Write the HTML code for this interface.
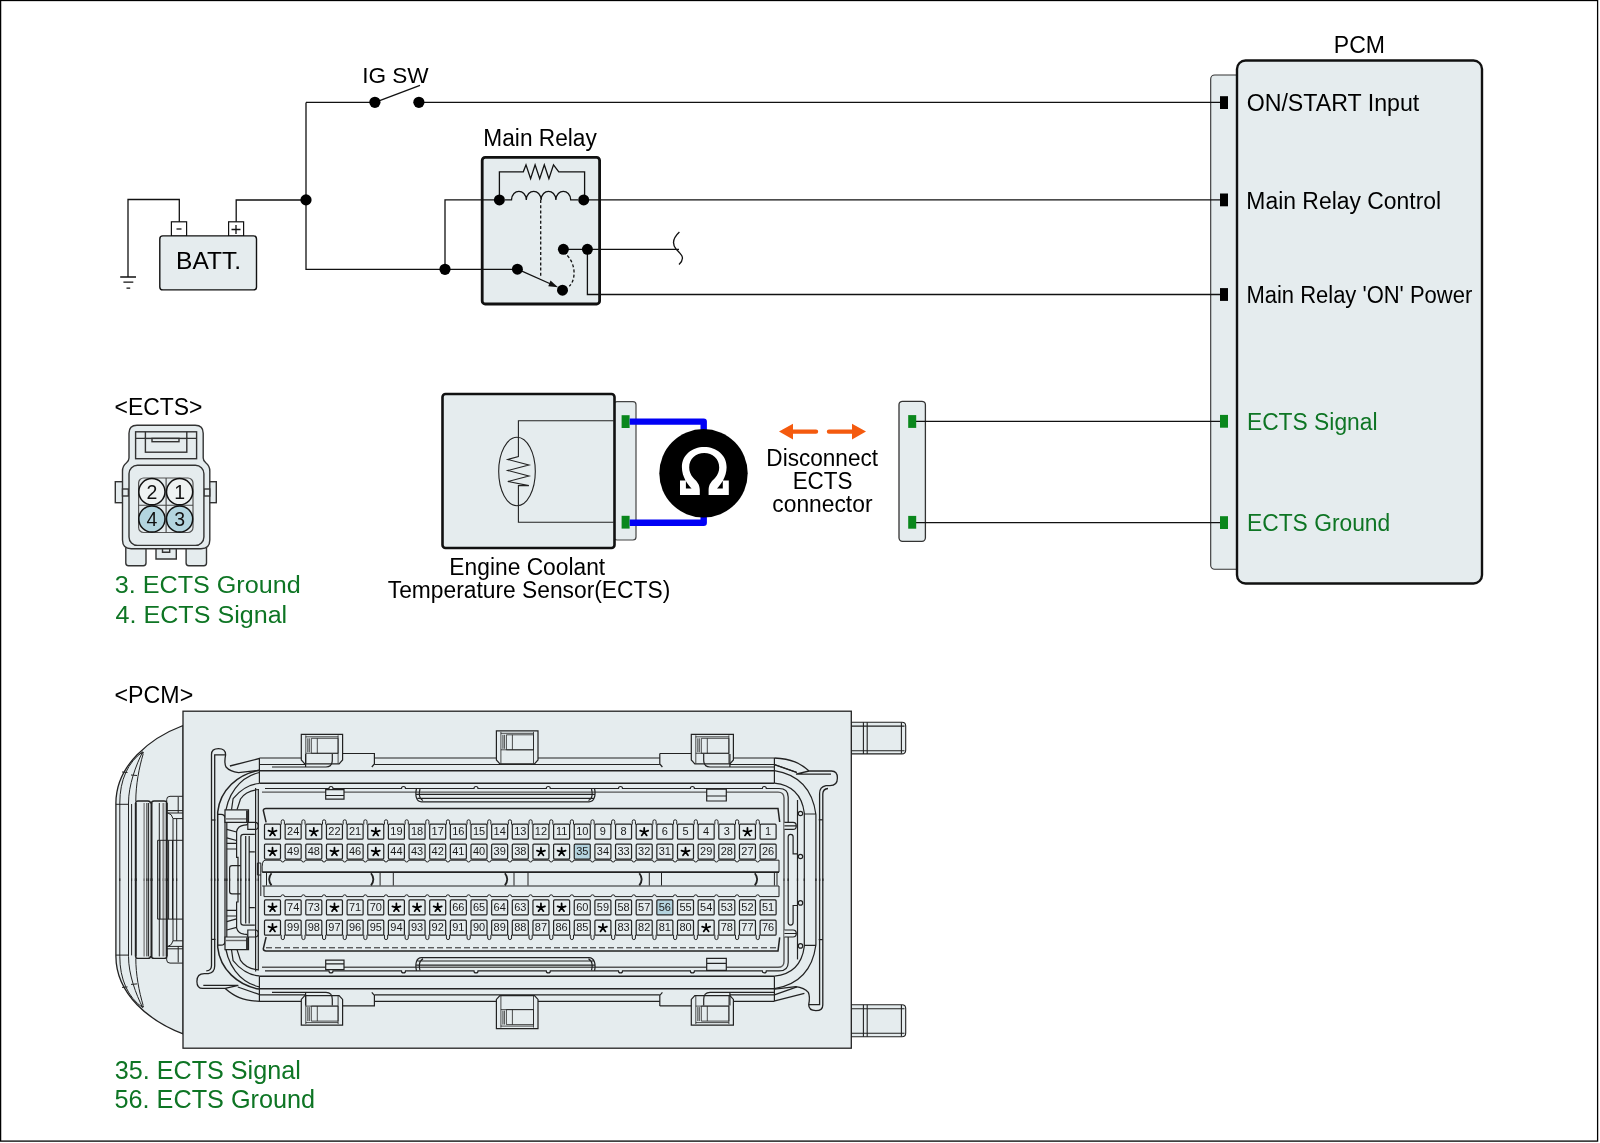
<!DOCTYPE html><html><head><meta charset="utf-8"><style>html,body{margin:0;padding:0;background:#fff;width:1600px;height:1143px;overflow:hidden}svg{display:block;will-change:transform}text{font-family:"Liberation Sans",sans-serif}</style></head><body>
<svg width="1600" height="1143" viewBox="0 0 1600 1143">
<rect x="0.6" y="0.5" width="1597" height="1140.6" fill="#fff" stroke="#000" stroke-width="1.3"/>
<rect x="899" y="401.3" width="26.4" height="140" rx="3.5" fill="#e5ecee" stroke="#333" stroke-width="1.3"/>
<rect x="1210.7" y="75" width="40" height="494.3" rx="4" fill="#e5ecee" stroke="#333" stroke-width="1.1"/>
<rect x="1237" y="60.5" width="245" height="523" rx="8.5" fill="#e5ecee" stroke="#111" stroke-width="2.4"/>
<rect x="482.2" y="157.4" width="117.4" height="146.6" rx="3" fill="#e5ecee" stroke="#111" stroke-width="2.8"/>
<g fill="none" stroke="#111" stroke-width="1.3">
<path d="M128,277 V199.5 H179.3 V222"/>
<path d="M236.2,222 V200 H306"/>
<path d="M306,102.4 H375 M419,102.4 H1220"/>
<path d="M306,102.4 V269.3 H517.4"/>
<path d="M445,269.3 V199.9 H499.4"/>
<path d="M583.7,199.9 H1220"/>
<path d="M563.4,249.3 H679"/>
<path d="M587.4,249.3 V294.5 H1220"/>
<path d="M375,102.4 L420,85.3"/>
<path d="M120.2,277 H136 M123.4,282.2 H133.3 M126.5,288.2 H130.2"/>
<path d="M679.4,232 C673,238 672,244 676,249 C681,254 686,258 679,264.5"/>
</g>
<rect x="171.4" y="221.8" width="15.2" height="14.4" fill="#fff" stroke="#111" stroke-width="1.2"/>
<rect x="228.6" y="221.8" width="15" height="14.4" fill="#fff" stroke="#111" stroke-width="1.2"/>
<path d="M176.5,229 H181.5" stroke="#111" stroke-width="1.3"/>
<path d="M231.5,229.5 H240.5 M236,225 V234" stroke="#111" stroke-width="1.3"/>
<rect x="159.8" y="235.9" width="96.7" height="54" rx="3" fill="#e5ecee" stroke="#111" stroke-width="1.4"/>
<circle cx="374.9" cy="102.3" r="5.6" fill="#000"/>
<circle cx="418.9" cy="102.3" r="5.6" fill="#000"/>
<circle cx="306" cy="199.9" r="5.6" fill="#000"/>
<circle cx="445" cy="269.3" r="5.6" fill="#000"/>
<g fill="none" stroke="#111" stroke-width="1.3">
<path d="M499.4,199.9 V171.8 H523.3 L526,164.8 L530.6,178.6 L535.1,164.8 L539.7,178.6 L544.3,164.8 L548.9,178.6 L553.5,164.8 L558.8,171.8 H584.6 V199.9"/>
<path d="M505,199.9 H511.5 C512.0,188.5 525.8,188.5 526.3,199.9 C526.8,188.5 540.5999999999999,188.5 541.0999999999999,199.9 C541.5999999999999,188.5 555.3999999999999,188.5 555.8999999999999,199.9 C556.3999999999999,188.5 570.1999999999998,188.5 570.6999999999998,199.9 H578"/>
<path d="M540.7,200 V277.8" stroke-dasharray="3,2.2"/>
<path d="M563.4,252 C577,262 576,280 569.3,286.3" stroke-dasharray="3,2.2"/>
<path d="M517.4,269.2 L553,285"/>
</g>
<path d="M558,287.3 L550.5,280.6 L548.3,286.2 Z" fill="#111"/>
<circle cx="499.4" cy="199.9" r="5.5" fill="#000"/>
<circle cx="583.7" cy="199.9" r="5.5" fill="#000"/>
<circle cx="563.4" cy="249.3" r="5.5" fill="#000"/>
<circle cx="587.4" cy="249.3" r="5.5" fill="#000"/>
<circle cx="517.4" cy="269.2" r="5.5" fill="#000"/>
<circle cx="562.5" cy="290.2" r="5.5" fill="#000"/>
<rect x="1220" y="96.19999999999999" width="8" height="12.8" fill="#000"/>
<rect x="1220" y="193.5" width="8" height="12.8" fill="#000"/>
<rect x="1220" y="288.1" width="8" height="12.8" fill="#000"/>
<rect x="1220" y="414.90000000000003" width="8" height="12.8" fill="#0a871c"/>
<rect x="1220" y="516.2" width="8" height="12.8" fill="#0a871c"/>
<path d="M916,421.3 H1220 M916,522.6 H1220" stroke="#111" stroke-width="1.2" fill="none"/>
<rect x="908.2" y="415.1" width="8" height="12.8" fill="#0a871c"/>
<rect x="908.2" y="515.9" width="8" height="12.8" fill="#0a871c"/>
<rect x="614" y="401.7" width="22" height="138.3" rx="3" fill="#e5ecee" stroke="#444" stroke-width="1.2"/>
<rect x="442.5" y="394" width="172" height="154" rx="3" fill="#e5ecee" stroke="#111" stroke-width="2.6"/>
<g fill="none" stroke="#222" stroke-width="1.1">
<path d="M614,420.8 H518.4 V456.5 L507.8,459.5 L528.9,465 L507.8,470.5 L528.9,476 L507.8,481.5 L528.9,485.6 L518.4,485.6 V522.3 H614"/>
<ellipse cx="517" cy="471.5" rx="18.3" ry="34.2"/>
</g>
<rect x="621.6" y="415.20000000000005" width="8" height="12.8" fill="#0a871c"/>
<rect x="621.6" y="515.8000000000001" width="8" height="12.8" fill="#0a871c"/>
<path d="M629.7,421.6 H703.7 V430 M629.7,522.8 H703.7 V516" fill="none" stroke="#0000f5" stroke-width="6.4" stroke-linejoin="round"/>
<circle cx="703.5" cy="473.3" r="44.2" fill="#000"/>
<path fill="#fff" d="M680,494.9 V480.4 H685.9 V488.6 H691.6 C688,485 681.9,477 681.9,467.3 C681.9,455 692,447.1 704.2,447.1 C716.4,447.1 726.6,455 726.6,467.3 C726.6,477 720.5,485 717,488.6 H722.8 V480.4 H728.8 V494.9 H708.6 V490 C708.6,484 712,481 715,478 C718,474.5 719.2,471 719.2,467.5 C719.2,459 712.5,453.1 704.2,453.1 C695.9,453.1 689.2,459 689.2,467.5 C689.2,471 690.4,474.5 693.4,478 C696.4,481 699.8,484 699.8,490 V494.9 Z"/>
<g fill="#f45a0e" stroke="none">
<path d="M779,431.6 L793,423.7 L793,429.4 L816,429.4 A2.2,2.2 0 0 1 816,433.8 L793,433.8 L793,439.5 Z"/>
<path d="M866,431.6 L852,423.7 L852,429.4 L829,429.4 A2.2,2.2 0 0 0 829,433.8 L852,433.8 L852,439.5 Z"/>
</g>
<g fill="#e5ecee" stroke="#333" stroke-width="1.4">
<path d="M125.8,545 V563 Q125.8,565.7 128.5,565.7 H143.3 Q146,565.7 146,563 V545 Z"/>
<path d="M186.1,545 V563 Q186.1,565.7 188.8,565.7 H203.8 Q206.5,565.7 206.5,563 V545 Z"/>
<path d="M156,545 V559 H176.3 V545 Z"/>
<rect x="115.3" y="481.7" width="10" height="21" />
<rect x="207" y="481.7" width="9.3" height="21" />
<path d="M137,425.3 H195.2 Q203.2,425.3 203.2,433.3 V458 Q203.2,461 206,463 Q209.8,466 209.8,471 V540 Q209.8,548.7 201,548.7 H131.3 Q122.5,548.7 122.5,540 V471 Q122.5,466 126.3,463 Q129,461 129,458 V433.3 Q129,425.3 137,425.3 Z"/>
<rect x="122.5" y="489" width="5.9" height="7"/>
<rect x="204" y="489" width="5.8" height="7"/>
<rect x="129" y="465.3" width="74.9" height="80.1" rx="8.5"/>
<rect x="135.6" y="431.8" width="61" height="26.9"/>
<rect x="145.4" y="438.4" width="41.4" height="13.8"/>
<rect x="152" y="438.4" width="27" height="3.3"/>
<path d="M135.6,438.4 H145.4 M186.8,438.4 H196.6 M145.4,431.8 V438.4 M186.8,431.8 V438.4" fill="none"/>
<path d="M162.5,548.7 V552.2 H169.7 V548.7" fill="none"/>
<rect x="138.6" y="478" width="54.4" height="54.5" rx="5" stroke="#555" stroke-width="1.2"/>
<path d="M166.1,478 V532.5 M138.6,505.2 H193" fill="none" stroke="#444" stroke-width="1.1"/>
<circle cx="151.9" cy="491.7" r="13.1" fill="#eef2f2" stroke="#111" stroke-width="1.5"/>
<circle cx="179.6" cy="491.7" r="13.1" fill="#eef2f2" stroke="#111" stroke-width="1.5"/>
<circle cx="151.9" cy="519" r="13.1" fill="#b3d5df" stroke="#111" stroke-width="1.5"/>
<circle cx="179.6" cy="519" r="13.1" fill="#b3d5df" stroke="#111" stroke-width="1.5"/>
</g>
<text x="151.9" y="498.5" font-size="19.5" fill="#111" text-anchor="middle" >2</text>
<text x="179.6" y="498.5" font-size="19.5" fill="#111" text-anchor="middle" >1</text>
<text x="151.9" y="525.5" font-size="19.5" fill="#111" text-anchor="middle" >4</text>
<text x="179.6" y="525.5" font-size="19.5" fill="#111" text-anchor="middle" >3</text>
<g fill="#e5ecee" stroke="#222" stroke-width="1.1">
<path d="M851,722.2 H902 Q905.7,722.2 905.7,726 V750 Q905.7,753.9 902,753.9 H851 Z"/>
<path d="M851,1004.7 H902 Q905.7,1004.7 905.7,1008.5 V1033 Q905.7,1036.8 902,1036.8 H851 Z"/>
<path d="M863.4,722.2 V753.9 M867.2,722.2 V753.9 M863.4,1004.7 V1036.8 M867.2,1004.7 V1036.8 M901.4,722.5 V753.5 M901.4,1005 V1036.5 M851,726.1 H904.5 M851,750.7 H904.5 M851,1008.7 H904.5 M851,1033.3 H904.5" fill="none" stroke-width="1.1"/>
</g>
<path d="M183.1,725.5 C150,738 116,765 115.9,803.2 V956.2 C116,994.4 150,1021.4 183.1,1033.9 Z" fill="#e5ecee" stroke="#222" stroke-width="1.3"/>
<g fill="none" stroke="#222" stroke-width="1"><path d="M142.7,751.8 C128,762 119.8,780 119.8,803 M142.7,751.8 C136,765 128.5,785 128.5,803 M143.2,753.8 C139,768 135.8,785 135.8,801 M115.9,804.3 H128.5 M119.8,803 V881 M128.5,803 V881 M131.6,804 V881 M141,754 L144,752.5 M122,772 L127.5,772.5 M131,775 L137,775.5"/></g>
<g fill="none" stroke="#222" stroke-width="1" transform="matrix(1,0,0,-1,0,1759.4)"><path d="M142.7,751.8 C128,762 119.8,780 119.8,803 M142.7,751.8 C136,765 128.5,785 128.5,803 M143.2,753.8 C139,768 135.8,785 135.8,801 M115.9,804.3 H128.5 M119.8,803 V881 M128.5,803 V881 M131.6,804 V881 M141,754 L144,752.5 M122,772 L127.5,772.5 M131,775 L137,775.5"/></g>
<rect x="183" y="711.2" width="668.3" height="337" fill="#e5ecee" stroke="#222" stroke-width="1.3"/>
<g fill="none" stroke="#222" stroke-width="1"><path d="M135.7,881 V803 Q135.7,801 138,801 H148 Q150.5,801 150.5,803.5 M151.5,803.5 Q151.5,801 154,801 H164 Q166.7,801 166.7,803 V881" stroke-width="1.4"/><path d="M135.7,803 V881" stroke-width="1.8"/><path d="M151.5,803 V881" stroke-width="2"/><path d="M166.7,803 V881" stroke-width="2"/><path d="M144.1,803 V881" stroke="#777" stroke-width="1.2"/><path d="M146.9,803 V881 M148.6,803 V881 M159.3,803 V881"/><path d="M163.4,803 V881" stroke="#888" stroke-width="2"/><path d="M166.7,811 V799.5 Q166.7,796.3 170,796.3 H183 M166.7,810.6 H183 M166.7,813 H183 M178.2,797 V813"/><path d="M168,813 Q172,814 173,818.6 V881 M173,818.6 H183 M176.7,818.6 V881"/></g>
<g fill="none" stroke="#222" stroke-width="1" transform="matrix(1,0,0,-1,0,1759.4)"><path d="M135.7,881 V803 Q135.7,801 138,801 H148 Q150.5,801 150.5,803.5 M151.5,803.5 Q151.5,801 154,801 H164 Q166.7,801 166.7,803 V881" stroke-width="1.4"/><path d="M135.7,803 V881" stroke-width="1.8"/><path d="M151.5,803 V881" stroke-width="2"/><path d="M166.7,803 V881" stroke-width="2"/><path d="M144.1,803 V881" stroke="#777" stroke-width="1.2"/><path d="M146.9,803 V881 M148.6,803 V881 M159.3,803 V881"/><path d="M163.4,803 V881" stroke="#888" stroke-width="2"/><path d="M166.7,811 V799.5 Q166.7,796.3 170,796.3 H183 M166.7,810.6 H183 M166.7,813 H183 M178.2,797 V813"/><path d="M168,813 Q172,814 173,818.6 V881 M173,818.6 H183 M176.7,818.6 V881"/></g>
<path d="M157.6,840.3 H183 M157.6,919.1 H183 M157.6,840.3 V919.1 M160,840.3 V919.1 M168.6,840.3 V919.1 M172.5,840.3 V919.1" fill="#e5ecee" stroke="#222" stroke-width="1"/>
<g fill="none" stroke="#222" stroke-width="1.2"><path d="M301.3,734.3 H342.6 V760 L339.1,763.8 H304.8 L301.3,760 Z" fill="#e5ecee"/>
<path d="M305.8,735.3 V763.5 M338.1,735.3 V763.5 M305.8,736.8 H338.1 M311.3,738.3 H338.1 V753.3 H311.3 Z M305.8,753.3 H338.1 M307.8,738.3 V752.3 M309.3,738.3 V752.3 M317.3,738.3 V753.3" fill="none" stroke-width="0.8"/>
<path d="M496.4,730.8 H538.0 V760 L534.5,763.8 H499.9 L496.4,760 Z" fill="#e5ecee"/>
<path d="M500.9,731.8 V763.5 M533.5,731.8 V763.5 M500.9,733.3 H533.5 M506.4,734.8 H533.5 V749.8 H506.4 Z M500.9,749.8 H533.5 M502.9,734.8 V748.8 M504.4,734.8 V748.8 M512.4,734.8 V749.8" fill="none" stroke-width="0.8"/>
<path d="M691.3,734.3 H733.4 V760 L729.9,763.8 H694.8 L691.3,760 Z" fill="#e5ecee"/>
<path d="M695.8,735.3 V763.5 M728.9,735.3 V763.5 M695.8,736.8 H728.9 M701.3,738.3 H728.9 V753.3 H701.3 Z M695.8,753.3 H728.9 M697.8,738.3 V752.3 M699.3,738.3 V752.3 M707.3,738.3 V753.3" fill="none" stroke-width="0.8"/>
<path d="M342.6,753.5 H374.4 V764 L371.8,767 M659.8,753.5 H691.3 M659.8,753.5 V764 L662.4,767"/>
<path d="M259.4,758 H301.3 M374.4,758 H496.4 M538,758 H659.8 M733.4,758 H774.4"/>
<path d="M259.4,764.5 H305.6 M374.4,764.5 H659.8 M729.9,764.5 H774.4"/>
<path d="M272,767 H326 Q332.3,767 332.3,760 V754 M305.6,754 V767 M774.4,767 H710 Q703.7,767 703.7,760 V754 M729.9,754 V767"/>
<path d="M259.4,770.7 H774.4" stroke-width="1.5"/>
<path d="M259.4,783.2 H774.4" stroke-width="1.5"/>
<path d="M259.4,758 V783.2 M774.4,758 V783.2"/>
<path d="M265,788.5 H329 A2,2 0 0 1 333,788.5 H401.5 A2,2 0 0 1 405.5,788.5 H474 A2,2 0 0 1 478,788.5 H546.3 A2,2 0 0 1 550.3,788.5 H618.5 A2,2 0 0 1 622.5,788.5 H690.4 A2,2 0 0 1 694.4,788.5 H762.3 A2,2 0 0 1 766.3,788.5 H779 Q788.2,788.5 788.2,797 V827"/>
<path d="M262,792.1 H778 Q784,792.1 784,798 V881" stroke-width="1.4" stroke="#555"/>
<path d="M416.5,788.5 C415,795 416,801.8 421.5,801.8 H589 C594.5,801.8 596,795 594.5,788.5 M416.5,794.3 H594.6 M417.5,798.4 H594 M420,789 C418.5,795 420,799 423,800.5 M591.5,789 C593,795 591.5,799 588.5,800.5"/>
<path d="M325.7,789.7 H344 V799.2 H325.7 Z M325.7,795.5 H344" fill="#e5ecee"/>
<path d="M706.7,789.1 H726.3 V801 H706.7 Z M706.7,796 H726.3" fill="#e5ecee"/>
<path d="M266.1,822.4 L263.3,810.5 Q263.5,808.5 266,808.5 H778 L779.7,822" stroke-width="1.5"/>
<path d="M259.4,770.3 C238,774 220,790 217.7,812 V881" stroke-width="1.5"/>
<path d="M259.4,772.5 C240,777 226,795 225,818.5 V881 M217.7,814.3 H221 Q225,814.3 225,818.5 M226.8,821 V881"/>
<path d="M259.4,783.5 C250,784 240,790 233.1,798.7 L231.5,809.8 M237,809.8 L240.5,799 Q246,790.5 259,789.5"/>
<path d="M225,809.8 H248.5 V822.4 H225 Z" fill="#e5ecee"/>
<path d="M225.5,818.9 H246.8" stroke="#666" stroke-width="1.4"/>
<path d="M247,810.5 V822" stroke-width="1.8"/>
<path d="M248,822.4 V824 Q247,825.2 244,825.2 Q238,826 236.6,831.5 V857.4 H238 V881"/>
<path d="M226.8,829.4 L236.6,832 M226.8,837.8 L236.6,840.5 M226.8,843.4 H236.6 M226.8,849 H236.6"/>
<path d="M240.8,881 V837 Q240.8,834.3 243.5,834.3 H254.8 M245.7,836 V881 M249.2,836 V881 M249.2,851.8 H254.8"/>
<path d="M247.8,822.4 H255 Q258.3,822.4 258.3,825.9 Q258.3,829.4 255,829.4 H247.8 Z" fill="#e5ecee"/>
<path d="M255.6,788 V881 M258.3,790 V881"/>
<path d="M229.6,881 V868 Q229.6,865.6 232,865.6 H240.7"/>
<path d="M211.5,820 H215.5"/>
<path d="M774.4,764.5 L797,772.5 M774.4,770.7 C795,774 812,785 815.9,814.5 V881 M774.4,783.2 C792,785 802,795 804.3,813 V881 M804.3,814 H815.9"/>
<path d="M818.7,819.8 H823"/>
<path d="M797.5,800 V881"/>
<circle cx="800.5" cy="813.5" r="2.2" fill="#e5ecee"/>
<circle cx="800.5" cy="856.5" r="2.2" fill="#e5ecee"/>
<path d="M788.2,881 V836.8 Q788.2,834.3 790.6,834.3 Q793.1,834.3 793.1,836.8 V853.9 H797.5"/>
<path d="M784.4,822.4 H793 Q796.3,822.4 796.3,825.9 Q796.3,829.4 793,829.4 H784.4 M784.4,825.9 H796" fill="#e5ecee"/></g>
<g fill="none" stroke="#222" stroke-width="1.2" transform="matrix(1,0,0,-1,0,1759.4)"><path d="M301.3,734.3 H342.6 V760 L339.1,763.8 H304.8 L301.3,760 Z" fill="#e5ecee"/>
<path d="M305.8,735.3 V763.5 M338.1,735.3 V763.5 M305.8,736.8 H338.1 M311.3,738.3 H338.1 V753.3 H311.3 Z M305.8,753.3 H338.1 M307.8,738.3 V752.3 M309.3,738.3 V752.3 M317.3,738.3 V753.3" fill="none" stroke-width="0.8"/>
<path d="M496.4,730.8 H538.0 V760 L534.5,763.8 H499.9 L496.4,760 Z" fill="#e5ecee"/>
<path d="M500.9,731.8 V763.5 M533.5,731.8 V763.5 M500.9,733.3 H533.5 M506.4,734.8 H533.5 V749.8 H506.4 Z M500.9,749.8 H533.5 M502.9,734.8 V748.8 M504.4,734.8 V748.8 M512.4,734.8 V749.8" fill="none" stroke-width="0.8"/>
<path d="M691.3,734.3 H733.4 V760 L729.9,763.8 H694.8 L691.3,760 Z" fill="#e5ecee"/>
<path d="M695.8,735.3 V763.5 M728.9,735.3 V763.5 M695.8,736.8 H728.9 M701.3,738.3 H728.9 V753.3 H701.3 Z M695.8,753.3 H728.9 M697.8,738.3 V752.3 M699.3,738.3 V752.3 M707.3,738.3 V753.3" fill="none" stroke-width="0.8"/>
<path d="M342.6,753.5 H374.4 V764 L371.8,767 M659.8,753.5 H691.3 M659.8,753.5 V764 L662.4,767"/>
<path d="M259.4,758 H301.3 M374.4,758 H496.4 M538,758 H659.8 M733.4,758 H774.4"/>
<path d="M259.4,764.5 H305.6 M374.4,764.5 H659.8 M729.9,764.5 H774.4"/>
<path d="M272,767 H326 Q332.3,767 332.3,760 V754 M305.6,754 V767 M774.4,767 H710 Q703.7,767 703.7,760 V754 M729.9,754 V767"/>
<path d="M259.4,770.7 H774.4" stroke-width="1.5"/>
<path d="M259.4,783.2 H774.4" stroke-width="1.5"/>
<path d="M259.4,758 V783.2 M774.4,758 V783.2"/>
<path d="M265,788.5 H329 A2,2 0 0 1 333,788.5 H401.5 A2,2 0 0 1 405.5,788.5 H474 A2,2 0 0 1 478,788.5 H546.3 A2,2 0 0 1 550.3,788.5 H618.5 A2,2 0 0 1 622.5,788.5 H690.4 A2,2 0 0 1 694.4,788.5 H762.3 A2,2 0 0 1 766.3,788.5 H779 Q788.2,788.5 788.2,797 V827"/>
<path d="M262,792.1 H778 Q784,792.1 784,798 V881" stroke-width="1.4" stroke="#555"/>
<path d="M416.5,788.5 C415,795 416,801.8 421.5,801.8 H589 C594.5,801.8 596,795 594.5,788.5 M416.5,794.3 H594.6 M417.5,798.4 H594 M420,789 C418.5,795 420,799 423,800.5 M591.5,789 C593,795 591.5,799 588.5,800.5"/>
<path d="M325.7,789.7 H344 V799.2 H325.7 Z M325.7,795.5 H344" fill="#e5ecee"/>
<path d="M706.7,789.1 H726.3 V801 H706.7 Z M706.7,796 H726.3" fill="#e5ecee"/>
<path d="M266.1,822.4 L263.3,810.5 Q263.5,808.5 266,808.5 H778 L779.7,822" stroke-width="1.5"/>
<path d="M259.4,770.3 C238,774 220,790 217.7,812 V881" stroke-width="1.5"/>
<path d="M259.4,772.5 C240,777 226,795 225,818.5 V881 M217.7,814.3 H221 Q225,814.3 225,818.5 M226.8,821 V881"/>
<path d="M259.4,783.5 C250,784 240,790 233.1,798.7 L231.5,809.8 M237,809.8 L240.5,799 Q246,790.5 259,789.5"/>
<path d="M225,809.8 H248.5 V822.4 H225 Z" fill="#e5ecee"/>
<path d="M225.5,818.9 H246.8" stroke="#666" stroke-width="1.4"/>
<path d="M247,810.5 V822" stroke-width="1.8"/>
<path d="M248,822.4 V824 Q247,825.2 244,825.2 Q238,826 236.6,831.5 V857.4 H238 V881"/>
<path d="M226.8,829.4 L236.6,832 M226.8,837.8 L236.6,840.5 M226.8,843.4 H236.6 M226.8,849 H236.6"/>
<path d="M240.8,881 V837 Q240.8,834.3 243.5,834.3 H254.8 M245.7,836 V881 M249.2,836 V881 M249.2,851.8 H254.8"/>
<path d="M247.8,822.4 H255 Q258.3,822.4 258.3,825.9 Q258.3,829.4 255,829.4 H247.8 Z" fill="#e5ecee"/>
<path d="M255.6,788 V881 M258.3,790 V881"/>
<path d="M229.6,881 V868 Q229.6,865.6 232,865.6 H240.7"/>
<path d="M211.5,820 H215.5"/>
<path d="M774.4,764.5 L797,772.5 M774.4,770.7 C795,774 812,785 815.9,814.5 V881 M774.4,783.2 C792,785 802,795 804.3,813 V881 M804.3,814 H815.9"/>
<path d="M818.7,819.8 H823"/>
<path d="M797.5,800 V881"/>
<circle cx="800.5" cy="813.5" r="2.2" fill="#e5ecee"/>
<circle cx="800.5" cy="856.5" r="2.2" fill="#e5ecee"/>
<path d="M788.2,881 V836.8 Q788.2,834.3 790.6,834.3 Q793.1,834.3 793.1,836.8 V853.9 H797.5"/>
<path d="M784.4,822.4 H793 Q796.3,822.4 796.3,825.9 Q796.3,829.4 793,829.4 H784.4 M784.4,825.9 H796" fill="#e5ecee"/></g>
<g fill="none" stroke="#222" stroke-width="1.3"><path d="M211.5,881 V754.5 Q211.5,748.7 218.5,748.7 Q225.6,748.7 225.6,754.8 Q224,762.8 226,767 Q229.9,771.5 238.6,772.7 L259.4,770.3"/>
<path d="M214.7,881 V754.8 H225.6 M229.9,766 L259.4,758.5"/>
<path d="M774.4,758 C792,759 800,763 809.1,771 H831.5 Q837.4,771 837.4,778 Q837.4,785.7 830,785.7 H826 Q819.6,787 819.6,793.4 V881 M822.8,881 V794 Q822.8,789 828,788.5 M796.5,772.4 L774.4,764.7 M809.1,771 L796,774.1 H831"/></g>
<g fill="none" stroke="#222" stroke-width="1.3" transform="rotate(180 517.15 879.7)"><path d="M211.5,881 V754.5 Q211.5,748.7 218.5,748.7 Q225.6,748.7 225.6,754.8 Q224,762.8 226,767 Q229.9,771.5 238.6,772.7 L259.4,770.3"/>
<path d="M214.7,881 V754.8 H225.6 M229.9,766 L259.4,758.5"/>
<path d="M774.4,758 C792,759 800,763 809.1,771 H831.5 Q837.4,771 837.4,778 Q837.4,785.7 830,785.7 H826 Q819.6,787 819.6,793.4 V881 M822.8,881 V794 Q822.8,789 828,788.5 M796.5,772.4 L774.4,764.7 M809.1,771 L796,774.1 H831"/></g>
<g fill="none" stroke="#222" stroke-width="1">
<path d="M262.2,872.1 Q261.5,860.2 265,860.2 H280.95 A1.8,1.8 0 0 0 284.55,860.2 H301.6 A1.8,1.8 0 0 0 305.20000000000005,860.2 H322.25 A1.8,1.8 0 0 0 325.85,860.2 H342.90000000000003 A1.8,1.8 0 0 0 346.50000000000006,860.2 H363.55 A1.8,1.8 0 0 0 367.15000000000003,860.2 H384.2 A1.8,1.8 0 0 0 387.8,860.2 H404.84999999999997 A1.8,1.8 0 0 0 408.45,860.2 H425.5 A1.8,1.8 0 0 0 429.1,860.2 H446.15000000000003 A1.8,1.8 0 0 0 449.75000000000006,860.2 H466.8 A1.8,1.8 0 0 0 470.40000000000003,860.2 H487.45 A1.8,1.8 0 0 0 491.05,860.2 H508.09999999999997 A1.8,1.8 0 0 0 511.7,860.2 H528.7500000000001 A1.8,1.8 0 0 0 532.35,860.2 H549.4 A1.8,1.8 0 0 0 552.9999999999999,860.2 H570.0500000000001 A1.8,1.8 0 0 0 573.65,860.2 H590.7 A1.8,1.8 0 0 0 594.3,860.2 H611.35 A1.8,1.8 0 0 0 614.9499999999999,860.2 H632.0000000000001 A1.8,1.8 0 0 0 635.6,860.2 H652.65 A1.8,1.8 0 0 0 656.2499999999999,860.2 H673.3000000000001 A1.8,1.8 0 0 0 676.9,860.2 H693.95 A1.8,1.8 0 0 0 697.55,860.2 H714.6 A1.8,1.8 0 0 0 718.1999999999999,860.2 H735.2500000000001 A1.8,1.8 0 0 0 738.85,860.2 H755.9 A1.8,1.8 0 0 0 759.4999999999999,860.2 H779 V872.1"/>
<path d="M262.2,872.1 H779" stroke-width="1.7"/>
<path d="M264,886 V896.6 H280.95 A1.8,1.8 0 0 1 284.55,896.6 H301.6 A1.8,1.8 0 0 1 305.20000000000005,896.6 H322.25 A1.8,1.8 0 0 1 325.85,896.6 H342.90000000000003 A1.8,1.8 0 0 1 346.50000000000006,896.6 H363.55 A1.8,1.8 0 0 1 367.15000000000003,896.6 H384.2 A1.8,1.8 0 0 1 387.8,896.6 H404.84999999999997 A1.8,1.8 0 0 1 408.45,896.6 H425.5 A1.8,1.8 0 0 1 429.1,896.6 H446.15000000000003 A1.8,1.8 0 0 1 449.75000000000006,896.6 H466.8 A1.8,1.8 0 0 1 470.40000000000003,896.6 H487.45 A1.8,1.8 0 0 1 491.05,896.6 H508.09999999999997 A1.8,1.8 0 0 1 511.7,896.6 H528.7500000000001 A1.8,1.8 0 0 1 532.35,896.6 H549.4 A1.8,1.8 0 0 1 552.9999999999999,896.6 H570.0500000000001 A1.8,1.8 0 0 1 573.65,896.6 H590.7 A1.8,1.8 0 0 1 594.3,896.6 H611.35 A1.8,1.8 0 0 1 614.9499999999999,896.6 H632.0000000000001 A1.8,1.8 0 0 1 635.6,896.6 H652.65 A1.8,1.8 0 0 1 656.2499999999999,896.6 H673.3000000000001 A1.8,1.8 0 0 1 676.9,896.6 H693.95 A1.8,1.8 0 0 1 697.55,896.6 H714.6 A1.8,1.8 0 0 1 718.1999999999999,896.6 H735.2500000000001 A1.8,1.8 0 0 1 738.85,896.6 H755.9 A1.8,1.8 0 0 1 759.4999999999999,896.6 H779 V886"/>
<path d="M262.2,886 H779" stroke-width="1.2"/>
<path d="M380.1,873 V885.5 M393.3,873 V885.5 M514,873 V885.5 M528,873 V885.5 M649.3,873 V885.5 M661.5,873 V885.5 M774.4,873 V885.5 M777,873 V885.5 M266.5,873 V885.5"/>
<path d="M271.5,873.3 Q266.8,879.3 271.5,885.4 M371,873.3 Q375.7,879.3 371,885.4 M504.9,873.3 Q509.6,879.3 504.9,885.4 M639.3,873.3 Q644,879.3 639.3,885.4 M754.8,873.3 Q759.5,879.3 754.8,885.4" stroke-width="1.8"/>
<path d="M257.4,863 V875 H260.8 V863 Z M260.8,875 V896"/>
</g>
<path d="M281.20,824.6 V821.4 A1.6,1.6 0 0 1 284.40,821.4 V824.6 M281.20,934.8 V938 A1.6,1.6 0 0 0 284.40,938 V934.8 M301.85,824.6 V821.4 A1.6,1.6 0 0 1 305.05,821.4 V824.6 M301.85,934.8 V938 A1.6,1.6 0 0 0 305.05,938 V934.8 M322.50,824.6 V821.4 A1.6,1.6 0 0 1 325.70,821.4 V824.6 M322.50,934.8 V938 A1.6,1.6 0 0 0 325.70,938 V934.8 M343.15,824.6 V821.4 A1.6,1.6 0 0 1 346.35,821.4 V824.6 M343.15,934.8 V938 A1.6,1.6 0 0 0 346.35,938 V934.8 M363.80,824.6 V821.4 A1.6,1.6 0 0 1 367.00,821.4 V824.6 M363.80,934.8 V938 A1.6,1.6 0 0 0 367.00,938 V934.8 M384.45,824.6 V821.4 A1.6,1.6 0 0 1 387.65,821.4 V824.6 M384.45,934.8 V938 A1.6,1.6 0 0 0 387.65,938 V934.8 M405.10,824.6 V821.4 A1.6,1.6 0 0 1 408.30,821.4 V824.6 M405.10,934.8 V938 A1.6,1.6 0 0 0 408.30,938 V934.8 M425.75,824.6 V821.4 A1.6,1.6 0 0 1 428.95,821.4 V824.6 M425.75,934.8 V938 A1.6,1.6 0 0 0 428.95,938 V934.8 M446.40,824.6 V821.4 A1.6,1.6 0 0 1 449.60,821.4 V824.6 M446.40,934.8 V938 A1.6,1.6 0 0 0 449.60,938 V934.8 M467.05,824.6 V821.4 A1.6,1.6 0 0 1 470.25,821.4 V824.6 M467.05,934.8 V938 A1.6,1.6 0 0 0 470.25,938 V934.8 M487.70,824.6 V821.4 A1.6,1.6 0 0 1 490.90,821.4 V824.6 M487.70,934.8 V938 A1.6,1.6 0 0 0 490.90,938 V934.8 M508.35,824.6 V821.4 A1.6,1.6 0 0 1 511.55,821.4 V824.6 M508.35,934.8 V938 A1.6,1.6 0 0 0 511.55,938 V934.8 M529.00,824.6 V821.4 A1.6,1.6 0 0 1 532.20,821.4 V824.6 M529.00,934.8 V938 A1.6,1.6 0 0 0 532.20,938 V934.8 M549.65,824.6 V821.4 A1.6,1.6 0 0 1 552.85,821.4 V824.6 M549.65,934.8 V938 A1.6,1.6 0 0 0 552.85,938 V934.8 M570.30,824.6 V821.4 A1.6,1.6 0 0 1 573.50,821.4 V824.6 M570.30,934.8 V938 A1.6,1.6 0 0 0 573.50,938 V934.8 M590.95,824.6 V821.4 A1.6,1.6 0 0 1 594.15,821.4 V824.6 M590.95,934.8 V938 A1.6,1.6 0 0 0 594.15,938 V934.8 M611.60,824.6 V821.4 A1.6,1.6 0 0 1 614.80,821.4 V824.6 M611.60,934.8 V938 A1.6,1.6 0 0 0 614.80,938 V934.8 M632.25,824.6 V821.4 A1.6,1.6 0 0 1 635.45,821.4 V824.6 M632.25,934.8 V938 A1.6,1.6 0 0 0 635.45,938 V934.8 M652.90,824.6 V821.4 A1.6,1.6 0 0 1 656.10,821.4 V824.6 M652.90,934.8 V938 A1.6,1.6 0 0 0 656.10,938 V934.8 M673.55,824.6 V821.4 A1.6,1.6 0 0 1 676.75,821.4 V824.6 M673.55,934.8 V938 A1.6,1.6 0 0 0 676.75,938 V934.8 M694.20,824.6 V821.4 A1.6,1.6 0 0 1 697.40,821.4 V824.6 M694.20,934.8 V938 A1.6,1.6 0 0 0 697.40,938 V934.8 M714.85,824.6 V821.4 A1.6,1.6 0 0 1 718.05,821.4 V824.6 M714.85,934.8 V938 A1.6,1.6 0 0 0 718.05,938 V934.8 M735.50,824.6 V821.4 A1.6,1.6 0 0 1 738.70,821.4 V824.6 M735.50,934.8 V938 A1.6,1.6 0 0 0 738.70,938 V934.8 M756.15,824.6 V821.4 A1.6,1.6 0 0 1 759.35,821.4 V824.6 M756.15,934.8 V938 A1.6,1.6 0 0 0 759.35,938 V934.8 " fill="#e5ecee" stroke="#222" stroke-width="1"/>
<path d="M266,947.8 H778" stroke="#222" stroke-width="1" stroke-dasharray="6,3" fill="none"/>
<g stroke="#222" stroke-width="1.2">
<rect x="264.50" y="824.2" width="16" height="15" rx="1" fill="#e5ecee"/>
<rect x="285.15" y="824.2" width="16" height="15" rx="1" fill="#e5ecee"/>
<rect x="305.80" y="824.2" width="16" height="15" rx="1" fill="#e5ecee"/>
<rect x="326.45" y="824.2" width="16" height="15" rx="1" fill="#e5ecee"/>
<rect x="347.10" y="824.2" width="16" height="15" rx="1" fill="#e5ecee"/>
<rect x="367.75" y="824.2" width="16" height="15" rx="1" fill="#e5ecee"/>
<rect x="388.40" y="824.2" width="16" height="15" rx="1" fill="#e5ecee"/>
<rect x="409.05" y="824.2" width="16" height="15" rx="1" fill="#e5ecee"/>
<rect x="429.70" y="824.2" width="16" height="15" rx="1" fill="#e5ecee"/>
<rect x="450.35" y="824.2" width="16" height="15" rx="1" fill="#e5ecee"/>
<rect x="471.00" y="824.2" width="16" height="15" rx="1" fill="#e5ecee"/>
<rect x="491.65" y="824.2" width="16" height="15" rx="1" fill="#e5ecee"/>
<rect x="512.30" y="824.2" width="16" height="15" rx="1" fill="#e5ecee"/>
<rect x="532.95" y="824.2" width="16" height="15" rx="1" fill="#e5ecee"/>
<rect x="553.60" y="824.2" width="16" height="15" rx="1" fill="#e5ecee"/>
<rect x="574.25" y="824.2" width="16" height="15" rx="1" fill="#e5ecee"/>
<rect x="594.90" y="824.2" width="16" height="15" rx="1" fill="#e5ecee"/>
<rect x="615.55" y="824.2" width="16" height="15" rx="1" fill="#e5ecee"/>
<rect x="636.20" y="824.2" width="16" height="15" rx="1" fill="#e5ecee"/>
<rect x="656.85" y="824.2" width="16" height="15" rx="1" fill="#e5ecee"/>
<rect x="677.50" y="824.2" width="16" height="15" rx="1" fill="#e5ecee"/>
<rect x="698.15" y="824.2" width="16" height="15" rx="1" fill="#e5ecee"/>
<rect x="718.80" y="824.2" width="16" height="15" rx="1" fill="#e5ecee"/>
<rect x="739.45" y="824.2" width="16" height="15" rx="1" fill="#e5ecee"/>
<rect x="760.10" y="824.2" width="16" height="15" rx="1" fill="#e5ecee"/>
<rect x="264.50" y="844.1" width="16" height="15" rx="1" fill="#e5ecee"/>
<rect x="285.15" y="844.1" width="16" height="15" rx="1" fill="#e5ecee"/>
<rect x="305.80" y="844.1" width="16" height="15" rx="1" fill="#e5ecee"/>
<rect x="326.45" y="844.1" width="16" height="15" rx="1" fill="#e5ecee"/>
<rect x="347.10" y="844.1" width="16" height="15" rx="1" fill="#e5ecee"/>
<rect x="367.75" y="844.1" width="16" height="15" rx="1" fill="#e5ecee"/>
<rect x="388.40" y="844.1" width="16" height="15" rx="1" fill="#e5ecee"/>
<rect x="409.05" y="844.1" width="16" height="15" rx="1" fill="#e5ecee"/>
<rect x="429.70" y="844.1" width="16" height="15" rx="1" fill="#e5ecee"/>
<rect x="450.35" y="844.1" width="16" height="15" rx="1" fill="#e5ecee"/>
<rect x="471.00" y="844.1" width="16" height="15" rx="1" fill="#e5ecee"/>
<rect x="491.65" y="844.1" width="16" height="15" rx="1" fill="#e5ecee"/>
<rect x="512.30" y="844.1" width="16" height="15" rx="1" fill="#e5ecee"/>
<rect x="532.95" y="844.1" width="16" height="15" rx="1" fill="#e5ecee"/>
<rect x="553.60" y="844.1" width="16" height="15" rx="1" fill="#e5ecee"/>
<rect x="574.25" y="844.1" width="16" height="15" rx="1" fill="#b4d3de"/>
<rect x="594.90" y="844.1" width="16" height="15" rx="1" fill="#e5ecee"/>
<rect x="615.55" y="844.1" width="16" height="15" rx="1" fill="#e5ecee"/>
<rect x="636.20" y="844.1" width="16" height="15" rx="1" fill="#e5ecee"/>
<rect x="656.85" y="844.1" width="16" height="15" rx="1" fill="#e5ecee"/>
<rect x="677.50" y="844.1" width="16" height="15" rx="1" fill="#e5ecee"/>
<rect x="698.15" y="844.1" width="16" height="15" rx="1" fill="#e5ecee"/>
<rect x="718.80" y="844.1" width="16" height="15" rx="1" fill="#e5ecee"/>
<rect x="739.45" y="844.1" width="16" height="15" rx="1" fill="#e5ecee"/>
<rect x="760.10" y="844.1" width="16" height="15" rx="1" fill="#e5ecee"/>
<rect x="264.50" y="899.9" width="16" height="15" rx="1" fill="#e5ecee"/>
<rect x="285.15" y="899.9" width="16" height="15" rx="1" fill="#e5ecee"/>
<rect x="305.80" y="899.9" width="16" height="15" rx="1" fill="#e5ecee"/>
<rect x="326.45" y="899.9" width="16" height="15" rx="1" fill="#e5ecee"/>
<rect x="347.10" y="899.9" width="16" height="15" rx="1" fill="#e5ecee"/>
<rect x="367.75" y="899.9" width="16" height="15" rx="1" fill="#e5ecee"/>
<rect x="388.40" y="899.9" width="16" height="15" rx="1" fill="#e5ecee"/>
<rect x="409.05" y="899.9" width="16" height="15" rx="1" fill="#e5ecee"/>
<rect x="429.70" y="899.9" width="16" height="15" rx="1" fill="#e5ecee"/>
<rect x="450.35" y="899.9" width="16" height="15" rx="1" fill="#e5ecee"/>
<rect x="471.00" y="899.9" width="16" height="15" rx="1" fill="#e5ecee"/>
<rect x="491.65" y="899.9" width="16" height="15" rx="1" fill="#e5ecee"/>
<rect x="512.30" y="899.9" width="16" height="15" rx="1" fill="#e5ecee"/>
<rect x="532.95" y="899.9" width="16" height="15" rx="1" fill="#e5ecee"/>
<rect x="553.60" y="899.9" width="16" height="15" rx="1" fill="#e5ecee"/>
<rect x="574.25" y="899.9" width="16" height="15" rx="1" fill="#e5ecee"/>
<rect x="594.90" y="899.9" width="16" height="15" rx="1" fill="#e5ecee"/>
<rect x="615.55" y="899.9" width="16" height="15" rx="1" fill="#e5ecee"/>
<rect x="636.20" y="899.9" width="16" height="15" rx="1" fill="#e5ecee"/>
<rect x="656.85" y="899.9" width="16" height="15" rx="1" fill="#b4d3de"/>
<rect x="677.50" y="899.9" width="16" height="15" rx="1" fill="#e5ecee"/>
<rect x="698.15" y="899.9" width="16" height="15" rx="1" fill="#e5ecee"/>
<rect x="718.80" y="899.9" width="16" height="15" rx="1" fill="#e5ecee"/>
<rect x="739.45" y="899.9" width="16" height="15" rx="1" fill="#e5ecee"/>
<rect x="760.10" y="899.9" width="16" height="15" rx="1" fill="#e5ecee"/>
<rect x="264.50" y="920.2" width="16" height="15" rx="1" fill="#e5ecee"/>
<rect x="285.15" y="920.2" width="16" height="15" rx="1" fill="#e5ecee"/>
<rect x="305.80" y="920.2" width="16" height="15" rx="1" fill="#e5ecee"/>
<rect x="326.45" y="920.2" width="16" height="15" rx="1" fill="#e5ecee"/>
<rect x="347.10" y="920.2" width="16" height="15" rx="1" fill="#e5ecee"/>
<rect x="367.75" y="920.2" width="16" height="15" rx="1" fill="#e5ecee"/>
<rect x="388.40" y="920.2" width="16" height="15" rx="1" fill="#e5ecee"/>
<rect x="409.05" y="920.2" width="16" height="15" rx="1" fill="#e5ecee"/>
<rect x="429.70" y="920.2" width="16" height="15" rx="1" fill="#e5ecee"/>
<rect x="450.35" y="920.2" width="16" height="15" rx="1" fill="#e5ecee"/>
<rect x="471.00" y="920.2" width="16" height="15" rx="1" fill="#e5ecee"/>
<rect x="491.65" y="920.2" width="16" height="15" rx="1" fill="#e5ecee"/>
<rect x="512.30" y="920.2" width="16" height="15" rx="1" fill="#e5ecee"/>
<rect x="532.95" y="920.2" width="16" height="15" rx="1" fill="#e5ecee"/>
<rect x="553.60" y="920.2" width="16" height="15" rx="1" fill="#e5ecee"/>
<rect x="574.25" y="920.2" width="16" height="15" rx="1" fill="#e5ecee"/>
<rect x="594.90" y="920.2" width="16" height="15" rx="1" fill="#e5ecee"/>
<rect x="615.55" y="920.2" width="16" height="15" rx="1" fill="#e5ecee"/>
<rect x="636.20" y="920.2" width="16" height="15" rx="1" fill="#e5ecee"/>
<rect x="656.85" y="920.2" width="16" height="15" rx="1" fill="#e5ecee"/>
<rect x="677.50" y="920.2" width="16" height="15" rx="1" fill="#e5ecee"/>
<rect x="698.15" y="920.2" width="16" height="15" rx="1" fill="#e5ecee"/>
<rect x="718.80" y="920.2" width="16" height="15" rx="1" fill="#e5ecee"/>
<rect x="739.45" y="920.2" width="16" height="15" rx="1" fill="#e5ecee"/>
<rect x="760.10" y="920.2" width="16" height="15" rx="1" fill="#e5ecee"/>
</g>
<g stroke="#000" stroke-width="1.75" stroke-linecap="round" fill="none">
<path d="M272.50,832.00 l0.00,-4.25M272.50,832.00 l4.04,-1.31M272.50,832.00 l2.50,3.44M272.50,832.00 l-2.50,3.44M272.50,832.00 l-4.04,-1.31"/>
<path d="M313.80,832.00 l0.00,-4.25M313.80,832.00 l4.04,-1.31M313.80,832.00 l2.50,3.44M313.80,832.00 l-2.50,3.44M313.80,832.00 l-4.04,-1.31"/>
<path d="M375.75,832.00 l0.00,-4.25M375.75,832.00 l4.04,-1.31M375.75,832.00 l2.50,3.44M375.75,832.00 l-2.50,3.44M375.75,832.00 l-4.04,-1.31"/>
<path d="M644.20,832.00 l0.00,-4.25M644.20,832.00 l4.04,-1.31M644.20,832.00 l2.50,3.44M644.20,832.00 l-2.50,3.44M644.20,832.00 l-4.04,-1.31"/>
<path d="M747.45,832.00 l0.00,-4.25M747.45,832.00 l4.04,-1.31M747.45,832.00 l2.50,3.44M747.45,832.00 l-2.50,3.44M747.45,832.00 l-4.04,-1.31"/>
<path d="M272.50,851.90 l0.00,-4.25M272.50,851.90 l4.04,-1.31M272.50,851.90 l2.50,3.44M272.50,851.90 l-2.50,3.44M272.50,851.90 l-4.04,-1.31"/>
<path d="M334.45,851.90 l0.00,-4.25M334.45,851.90 l4.04,-1.31M334.45,851.90 l2.50,3.44M334.45,851.90 l-2.50,3.44M334.45,851.90 l-4.04,-1.31"/>
<path d="M375.75,851.90 l0.00,-4.25M375.75,851.90 l4.04,-1.31M375.75,851.90 l2.50,3.44M375.75,851.90 l-2.50,3.44M375.75,851.90 l-4.04,-1.31"/>
<path d="M540.95,851.90 l0.00,-4.25M540.95,851.90 l4.04,-1.31M540.95,851.90 l2.50,3.44M540.95,851.90 l-2.50,3.44M540.95,851.90 l-4.04,-1.31"/>
<path d="M561.60,851.90 l0.00,-4.25M561.60,851.90 l4.04,-1.31M561.60,851.90 l2.50,3.44M561.60,851.90 l-2.50,3.44M561.60,851.90 l-4.04,-1.31"/>
<path d="M685.50,851.90 l0.00,-4.25M685.50,851.90 l4.04,-1.31M685.50,851.90 l2.50,3.44M685.50,851.90 l-2.50,3.44M685.50,851.90 l-4.04,-1.31"/>
<path d="M272.50,907.70 l0.00,-4.25M272.50,907.70 l4.04,-1.31M272.50,907.70 l2.50,3.44M272.50,907.70 l-2.50,3.44M272.50,907.70 l-4.04,-1.31"/>
<path d="M334.45,907.70 l0.00,-4.25M334.45,907.70 l4.04,-1.31M334.45,907.70 l2.50,3.44M334.45,907.70 l-2.50,3.44M334.45,907.70 l-4.04,-1.31"/>
<path d="M396.40,907.70 l0.00,-4.25M396.40,907.70 l4.04,-1.31M396.40,907.70 l2.50,3.44M396.40,907.70 l-2.50,3.44M396.40,907.70 l-4.04,-1.31"/>
<path d="M417.05,907.70 l0.00,-4.25M417.05,907.70 l4.04,-1.31M417.05,907.70 l2.50,3.44M417.05,907.70 l-2.50,3.44M417.05,907.70 l-4.04,-1.31"/>
<path d="M437.70,907.70 l0.00,-4.25M437.70,907.70 l4.04,-1.31M437.70,907.70 l2.50,3.44M437.70,907.70 l-2.50,3.44M437.70,907.70 l-4.04,-1.31"/>
<path d="M540.95,907.70 l0.00,-4.25M540.95,907.70 l4.04,-1.31M540.95,907.70 l2.50,3.44M540.95,907.70 l-2.50,3.44M540.95,907.70 l-4.04,-1.31"/>
<path d="M561.60,907.70 l0.00,-4.25M561.60,907.70 l4.04,-1.31M561.60,907.70 l2.50,3.44M561.60,907.70 l-2.50,3.44M561.60,907.70 l-4.04,-1.31"/>
<path d="M272.50,928.00 l0.00,-4.25M272.50,928.00 l4.04,-1.31M272.50,928.00 l2.50,3.44M272.50,928.00 l-2.50,3.44M272.50,928.00 l-4.04,-1.31"/>
<path d="M602.90,928.00 l0.00,-4.25M602.90,928.00 l4.04,-1.31M602.90,928.00 l2.50,3.44M602.90,928.00 l-2.50,3.44M602.90,928.00 l-4.04,-1.31"/>
<path d="M706.15,928.00 l0.00,-4.25M706.15,928.00 l4.04,-1.31M706.15,928.00 l2.50,3.44M706.15,928.00 l-2.50,3.44M706.15,928.00 l-4.04,-1.31"/>
</g>
<text x="293.15" y="835.10" font-size="11" fill="#1a1a1a" text-anchor="middle">24</text>
<text x="334.45" y="835.10" font-size="11" fill="#1a1a1a" text-anchor="middle">22</text>
<text x="355.10" y="835.10" font-size="11" fill="#1a1a1a" text-anchor="middle">21</text>
<text x="396.40" y="835.10" font-size="11" fill="#1a1a1a" text-anchor="middle">19</text>
<text x="417.05" y="835.10" font-size="11" fill="#1a1a1a" text-anchor="middle">18</text>
<text x="437.70" y="835.10" font-size="11" fill="#1a1a1a" text-anchor="middle">17</text>
<text x="458.35" y="835.10" font-size="11" fill="#1a1a1a" text-anchor="middle">16</text>
<text x="479.00" y="835.10" font-size="11" fill="#1a1a1a" text-anchor="middle">15</text>
<text x="499.65" y="835.10" font-size="11" fill="#1a1a1a" text-anchor="middle">14</text>
<text x="520.30" y="835.10" font-size="11" fill="#1a1a1a" text-anchor="middle">13</text>
<text x="540.95" y="835.10" font-size="11" fill="#1a1a1a" text-anchor="middle">12</text>
<text x="561.60" y="835.10" font-size="11" fill="#1a1a1a" text-anchor="middle">11</text>
<text x="582.25" y="835.10" font-size="11" fill="#1a1a1a" text-anchor="middle">10</text>
<text x="602.90" y="835.10" font-size="11" fill="#1a1a1a" text-anchor="middle">9</text>
<text x="623.55" y="835.10" font-size="11" fill="#1a1a1a" text-anchor="middle">8</text>
<text x="664.85" y="835.10" font-size="11" fill="#1a1a1a" text-anchor="middle">6</text>
<text x="685.50" y="835.10" font-size="11" fill="#1a1a1a" text-anchor="middle">5</text>
<text x="706.15" y="835.10" font-size="11" fill="#1a1a1a" text-anchor="middle">4</text>
<text x="726.80" y="835.10" font-size="11" fill="#1a1a1a" text-anchor="middle">3</text>
<text x="768.10" y="835.10" font-size="11" fill="#1a1a1a" text-anchor="middle">1</text>
<text x="293.15" y="855.00" font-size="11" fill="#1a1a1a" text-anchor="middle">49</text>
<text x="313.80" y="855.00" font-size="11" fill="#1a1a1a" text-anchor="middle">48</text>
<text x="355.10" y="855.00" font-size="11" fill="#1a1a1a" text-anchor="middle">46</text>
<text x="396.40" y="855.00" font-size="11" fill="#1a1a1a" text-anchor="middle">44</text>
<text x="417.05" y="855.00" font-size="11" fill="#1a1a1a" text-anchor="middle">43</text>
<text x="437.70" y="855.00" font-size="11" fill="#1a1a1a" text-anchor="middle">42</text>
<text x="458.35" y="855.00" font-size="11" fill="#1a1a1a" text-anchor="middle">41</text>
<text x="479.00" y="855.00" font-size="11" fill="#1a1a1a" text-anchor="middle">40</text>
<text x="499.65" y="855.00" font-size="11" fill="#1a1a1a" text-anchor="middle">39</text>
<text x="520.30" y="855.00" font-size="11" fill="#1a1a1a" text-anchor="middle">38</text>
<text x="582.25" y="855.00" font-size="11" fill="#1a1a1a" text-anchor="middle">35</text>
<text x="602.90" y="855.00" font-size="11" fill="#1a1a1a" text-anchor="middle">34</text>
<text x="623.55" y="855.00" font-size="11" fill="#1a1a1a" text-anchor="middle">33</text>
<text x="644.20" y="855.00" font-size="11" fill="#1a1a1a" text-anchor="middle">32</text>
<text x="664.85" y="855.00" font-size="11" fill="#1a1a1a" text-anchor="middle">31</text>
<text x="706.15" y="855.00" font-size="11" fill="#1a1a1a" text-anchor="middle">29</text>
<text x="726.80" y="855.00" font-size="11" fill="#1a1a1a" text-anchor="middle">28</text>
<text x="747.45" y="855.00" font-size="11" fill="#1a1a1a" text-anchor="middle">27</text>
<text x="768.10" y="855.00" font-size="11" fill="#1a1a1a" text-anchor="middle">26</text>
<text x="293.15" y="910.80" font-size="11" fill="#1a1a1a" text-anchor="middle">74</text>
<text x="313.80" y="910.80" font-size="11" fill="#1a1a1a" text-anchor="middle">73</text>
<text x="355.10" y="910.80" font-size="11" fill="#1a1a1a" text-anchor="middle">71</text>
<text x="375.75" y="910.80" font-size="11" fill="#1a1a1a" text-anchor="middle">70</text>
<text x="458.35" y="910.80" font-size="11" fill="#1a1a1a" text-anchor="middle">66</text>
<text x="479.00" y="910.80" font-size="11" fill="#1a1a1a" text-anchor="middle">65</text>
<text x="499.65" y="910.80" font-size="11" fill="#1a1a1a" text-anchor="middle">64</text>
<text x="520.30" y="910.80" font-size="11" fill="#1a1a1a" text-anchor="middle">63</text>
<text x="582.25" y="910.80" font-size="11" fill="#1a1a1a" text-anchor="middle">60</text>
<text x="602.90" y="910.80" font-size="11" fill="#1a1a1a" text-anchor="middle">59</text>
<text x="623.55" y="910.80" font-size="11" fill="#1a1a1a" text-anchor="middle">58</text>
<text x="644.20" y="910.80" font-size="11" fill="#1a1a1a" text-anchor="middle">57</text>
<text x="664.85" y="910.80" font-size="11" fill="#1a1a1a" text-anchor="middle">56</text>
<text x="685.50" y="910.80" font-size="11" fill="#1a1a1a" text-anchor="middle">55</text>
<text x="706.15" y="910.80" font-size="11" fill="#1a1a1a" text-anchor="middle">54</text>
<text x="726.80" y="910.80" font-size="11" fill="#1a1a1a" text-anchor="middle">53</text>
<text x="747.45" y="910.80" font-size="11" fill="#1a1a1a" text-anchor="middle">52</text>
<text x="768.10" y="910.80" font-size="11" fill="#1a1a1a" text-anchor="middle">51</text>
<text x="293.15" y="931.10" font-size="11" fill="#1a1a1a" text-anchor="middle">99</text>
<text x="313.80" y="931.10" font-size="11" fill="#1a1a1a" text-anchor="middle">98</text>
<text x="334.45" y="931.10" font-size="11" fill="#1a1a1a" text-anchor="middle">97</text>
<text x="355.10" y="931.10" font-size="11" fill="#1a1a1a" text-anchor="middle">96</text>
<text x="375.75" y="931.10" font-size="11" fill="#1a1a1a" text-anchor="middle">95</text>
<text x="396.40" y="931.10" font-size="11" fill="#1a1a1a" text-anchor="middle">94</text>
<text x="417.05" y="931.10" font-size="11" fill="#1a1a1a" text-anchor="middle">93</text>
<text x="437.70" y="931.10" font-size="11" fill="#1a1a1a" text-anchor="middle">92</text>
<text x="458.35" y="931.10" font-size="11" fill="#1a1a1a" text-anchor="middle">91</text>
<text x="479.00" y="931.10" font-size="11" fill="#1a1a1a" text-anchor="middle">90</text>
<text x="499.65" y="931.10" font-size="11" fill="#1a1a1a" text-anchor="middle">89</text>
<text x="520.30" y="931.10" font-size="11" fill="#1a1a1a" text-anchor="middle">88</text>
<text x="540.95" y="931.10" font-size="11" fill="#1a1a1a" text-anchor="middle">87</text>
<text x="561.60" y="931.10" font-size="11" fill="#1a1a1a" text-anchor="middle">86</text>
<text x="582.25" y="931.10" font-size="11" fill="#1a1a1a" text-anchor="middle">85</text>
<text x="623.55" y="931.10" font-size="11" fill="#1a1a1a" text-anchor="middle">83</text>
<text x="644.20" y="931.10" font-size="11" fill="#1a1a1a" text-anchor="middle">82</text>
<text x="664.85" y="931.10" font-size="11" fill="#1a1a1a" text-anchor="middle">81</text>
<text x="685.50" y="931.10" font-size="11" fill="#1a1a1a" text-anchor="middle">80</text>
<text x="726.80" y="931.10" font-size="11" fill="#1a1a1a" text-anchor="middle">78</text>
<text x="747.45" y="931.10" font-size="11" fill="#1a1a1a" text-anchor="middle">77</text>
<text x="768.10" y="931.10" font-size="11" fill="#1a1a1a" text-anchor="middle">76</text>
<text x="362.15" y="82.75" font-size="22.6" fill="#000" text-anchor="start" textLength="66.55" lengthAdjust="spacingAndGlyphs" >IG SW</text>
<text x="483.34" y="145.8" font-size="23.3" fill="#000" text-anchor="start" textLength="113.46" lengthAdjust="spacingAndGlyphs" >Main Relay</text>
<text x="1333.80" y="53.1" font-size="23.3" fill="#000" text-anchor="start" textLength="51.17" lengthAdjust="spacingAndGlyphs" >PCM</text>
<text x="1246.63" y="111" font-size="23.5" fill="#000" text-anchor="start" textLength="172.65" lengthAdjust="spacingAndGlyphs" >ON/START Input</text>
<text x="1246.36" y="208.5" font-size="23.5" fill="#000" text-anchor="start" textLength="194.80" lengthAdjust="spacingAndGlyphs" >Main Relay Control</text>
<text x="1246.43" y="303" font-size="23.5" fill="#000" text-anchor="start" textLength="225.78" lengthAdjust="spacingAndGlyphs" >Main Relay 'ON' Power</text>
<text x="1246.94" y="430.2" font-size="23.5" fill="#0e7524" text-anchor="start" textLength="130.56" lengthAdjust="spacingAndGlyphs" >ECTS Signal</text>
<text x="1246.94" y="530.8" font-size="23.5" fill="#0e7524" text-anchor="start" textLength="143.31" lengthAdjust="spacingAndGlyphs" >ECTS Ground</text>
<text x="175.99" y="269.2" font-size="23.5" fill="#000" text-anchor="start" textLength="65.12" lengthAdjust="spacingAndGlyphs" >BATT.</text>
<text x="114.56" y="415" font-size="23" fill="#000" text-anchor="start" textLength="87.95" lengthAdjust="spacingAndGlyphs" >&lt;ECTS&gt;</text>
<text x="114.70" y="592.8" font-size="24.7" fill="#0e7524" text-anchor="start" textLength="186.04" lengthAdjust="spacingAndGlyphs" >3. ECTS Ground</text>
<text x="115.58" y="622.5" font-size="24.7" fill="#0e7524" text-anchor="start" textLength="171.61" lengthAdjust="spacingAndGlyphs" >4. ECTS Signal</text>
<text x="449.36" y="575.0" font-size="23" fill="#000" text-anchor="start" textLength="155.82" lengthAdjust="spacingAndGlyphs" >Engine Coolant</text>
<text x="387.79" y="598.0" font-size="23" fill="#000" text-anchor="start" textLength="282.45" lengthAdjust="spacingAndGlyphs" >Temperature Sensor(ECTS)</text>
<text x="766.35" y="466.4" font-size="23.5" fill="#000" text-anchor="start" textLength="111.71" lengthAdjust="spacingAndGlyphs" >Disconnect</text>
<text x="792.65" y="489.1" font-size="23.5" fill="#000" text-anchor="start" textLength="59.90" lengthAdjust="spacingAndGlyphs" >ECTS</text>
<text x="772.30" y="511.9" font-size="23.5" fill="#000" text-anchor="start" textLength="100.20" lengthAdjust="spacingAndGlyphs" >connector</text>
<text x="114.55" y="702.5" font-size="23" fill="#000" text-anchor="start" textLength="78.69" lengthAdjust="spacingAndGlyphs" >&lt;PCM&gt;</text>
<text x="114.73" y="1078.5" font-size="25.2" fill="#0e7524" text-anchor="start" textLength="186.07" lengthAdjust="spacingAndGlyphs" >35. ECTS Signal</text>
<text x="114.52" y="1108" font-size="25.2" fill="#0e7524" text-anchor="start" textLength="200.54" lengthAdjust="spacingAndGlyphs" >56. ECTS Ground</text>
</svg></body></html>
